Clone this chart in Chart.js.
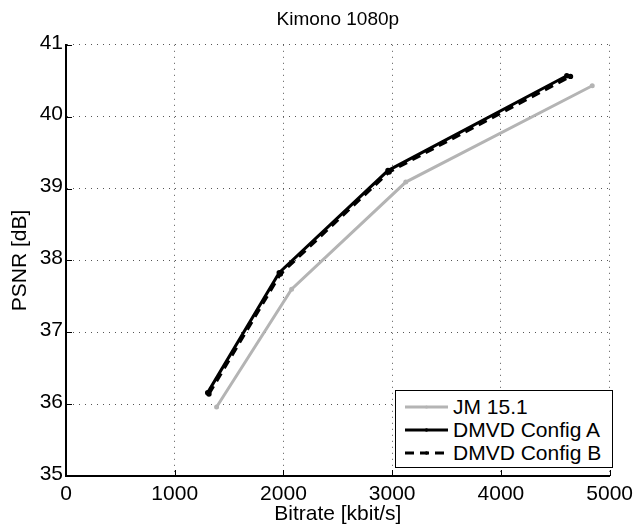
<!DOCTYPE html>
<html>
<head>
<meta charset="utf-8">
<title>Kimono 1080p</title>
<script src="https://cdn.jsdelivr.net/npm/chart.js@4.4.0/dist/chart.umd.min.js"></script>
<style>
  html, body { margin: 0; padding: 0; background: #fff; }
  #wrap { position: relative; width: 639px; height: 525px; }
  #legend {
    position: absolute; left: 395px; top: 390px; width: 218px; height: 78px;
    border: 1px solid #000; background: #fff; box-sizing: border-box;
    font-family: "Liberation Sans", Arial, sans-serif; font-size: 21px; color: #000;
    padding-top: 4px;
  }
  #legend .row { display: flex; align-items: center; height: 23px; white-space: nowrap; }
  #legend svg { margin-left: 9px; margin-right: 5px; flex: none; }
</style>
</head>
<body>
<div id="wrap">
  <canvas id="rdChart" width="639" height="525"></canvas>
  <div id="legend"></div>
</div>
<script>
// Donnees (debit en kbit/s, PSNR en dB)
const seriesNames = ['JM 15.1', 'DMVD Config A', 'DMVD Config B'];

const bitrateJM = [1385, 2075, 3125, 4840];
const psnrJM    = [35.96, 37.60, 39.09, 40.43];

const bitrateA = [1303, 1961, 2961, 4606];
const psnrA    = [36.16, 37.83, 39.25, 40.57];

const bitrateB = [1315, 1972, 2972, 4640];
const psnrB    = [36.14, 37.81, 39.23, 40.56];

const xTicks = [0, 1000, 2000, 3000, 4000, 5000];
const yTicks = [35, 36, 37, 38, 39, 40, 41];

const FONT = '"Liberation Sans", Arial, sans-serif';

function toPoints(xs, ys) {
    return xs.map((x, i) => ({ x: x, y: ys[i] }));
}

// petits traits de graduation vers l'interieur, comme dans Matlab
const innerTicks = {
    id: 'innerTicks',
    afterDatasetsDraw(chart) {
        const ctx = chart.ctx;
        const area = chart.chartArea;
        const sx = chart.scales.x, sy = chart.scales.y;
        ctx.save();
        ctx.strokeStyle = '#000';
        ctx.lineWidth = 1;
        ctx.beginPath();
        xTicks.forEach(v => {
            const px = Math.round(sx.getPixelForValue(v)) + 0.5;
            ctx.moveTo(px, area.bottom);
            ctx.lineTo(px, area.bottom - 6);
        });
        yTicks.forEach(v => {
            const py = Math.round(sy.getPixelForValue(v)) + 0.5;
            ctx.moveTo(area.left, py);
            ctx.lineTo(area.left + 6, py);
        });
        ctx.stroke();
        ctx.restore();
    }
};

const datasets = [
    {
        label: seriesNames[0],
        data: toPoints(bitrateJM, psnrJM),
        borderColor: '#b4b4b4',
        backgroundColor: '#b4b4b4',
        borderWidth: 3,
        pointRadius: 1,
        order: 3
    },
    {
        label: seriesNames[1],
        data: toPoints(bitrateA, psnrA),
        borderColor: '#000',
        backgroundColor: '#000',
        borderWidth: 3,
        pointRadius: 1.2,
        order: 2
    },
    {
        label: seriesNames[2],
        data: toPoints(bitrateB, psnrB),
        borderColor: '#000',
        backgroundColor: '#000',
        borderWidth: 3,
        borderDash: [9, 6],
        pointRadius: 1.2,
        order: 1
    }
];

const ctx = document.getElementById('rdChart').getContext('2d');

const chart = new Chart(ctx, {
    type: 'scatter',
    data: { datasets: datasets },
    options: {
        responsive: false,
        animation: false,
        layout: { padding: { left: 0, right: 23, top: 0, bottom: 0 } },
        elements: {
            line: { tension: 0, fill: false },
            point: { pointStyle: 'circle', borderWidth: 0 }
        },
        datasets: { scatter: { showLine: true } },
        plugins: {
            legend: { display: false },
            tooltip: { enabled: false },
            title: {
                display: true,
                text: 'Kimono 1080p',
                fullSize: false,
                color: '#000',
                font: { family: FONT, size: 19, weight: 'normal' },
                padding: { top: 8, bottom: 14 }
            }
        },
        scales: {
            x: {
                type: 'linear',
                min: 0,
                max: 5000,
                afterBuildTicks: s => { s.ticks = xTicks.map(v => ({ value: v })); },
                afterFit: s => { s.height = 49; },
                ticks: {
                    color: '#000',
                    padding: 6,
                    maxRotation: 0,
                    font: { family: FONT, size: 21 },
                    callback: v => String(v)
                },
                grid: {
                    color: '#555',
                    lineWidth: 1,
                    drawTicks: false,
                    tickLength: 0
                },
                border: { display: true, color: '#000', width: 2, dash: [1, 5] },
                title: {
                    display: true,
                    text: 'Bitrate [kbit/s]',
                    color: '#000',
                    font: { family: FONT, size: 21, lineHeight: 1 },
                    padding: { top: 0, bottom: 0 }
                }
            },
            y: {
                type: 'linear',
                min: 35,
                max: 41,
                afterBuildTicks: s => { s.ticks = yTicks.map(v => ({ value: v })); },
                afterFit: s => { s.width = 66; },
                ticks: {
                    color: '#000',
                    padding: 3,
                    labelOffset: -2,
                    font: { family: FONT, size: 21 },
                    callback: v => String(v)
                },
                grid: {
                    color: '#555',
                    lineWidth: 1,
                    drawTicks: false,
                    tickLength: 0
                },
                border: { display: true, color: '#000', width: 2, dash: [1, 5] },
                title: {
                    display: true,
                    text: 'PSNR [dB]',
                    color: '#000',
                    font: { family: FONT, size: 21, lineHeight: 1 },
                    padding: { top: 10, bottom: 0 }
                }
            }
        }
    },
    plugins: [innerTicks]
});

// legende HTML dans le coin inferieur droit
const legendBox = document.getElementById('legend');
datasets.forEach(ds => {
    const row = document.createElement('div');
    row.className = 'row';
    const dash = ds.borderDash ? ds.borderDash.join(',') : 'none';
    row.innerHTML =
        '<svg width="43" height="10"><line x1="0" y1="5" x2="43" y2="5" stroke="' + ds.borderColor +
        '" stroke-width="' + ds.borderWidth + '" stroke-dasharray="' + dash + '"/>' +
        '<circle cx="21.5" cy="5" r="' + (ds.pointRadius + 0.5) + '" fill="' + ds.backgroundColor + '"/></svg>' +
        '<span>' + ds.label + '</span>';
    legendBox.appendChild(row);
});
</script>
</body>
</html>
